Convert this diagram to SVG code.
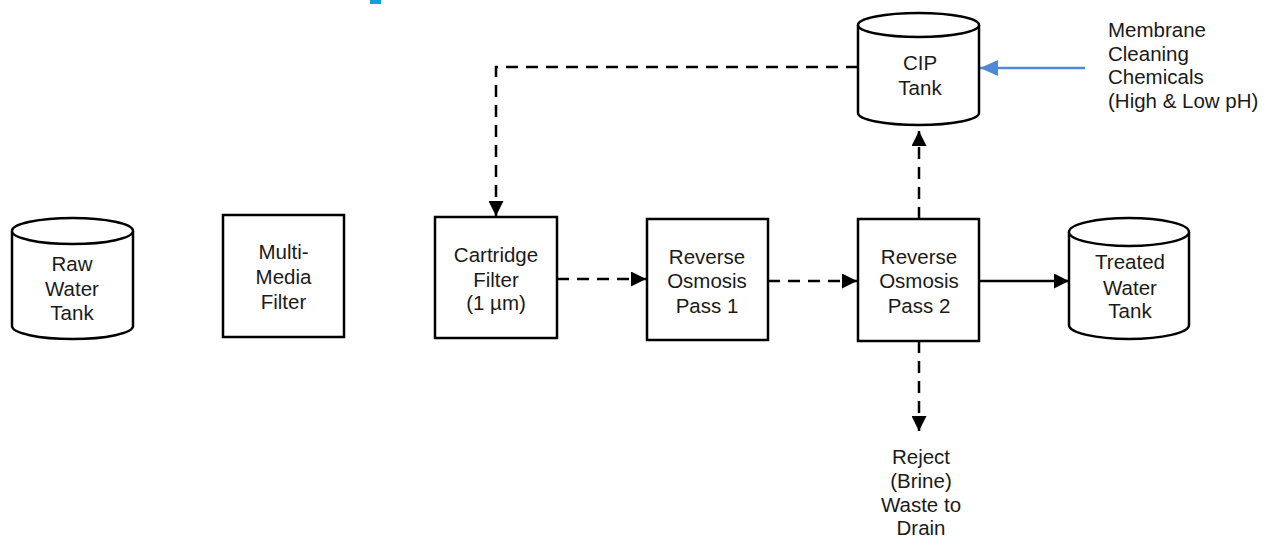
<svg xmlns="http://www.w3.org/2000/svg" width="1265" height="545" viewBox="0 0 1265 545">
  <style>
    .box { fill: #ffffff; stroke: #000000; stroke-width: 2.5; }
    .tank { fill: #ffffff; stroke: #000000; stroke-width: 2.5; }
    .lbl { font-family: "Liberation Sans", Arial, sans-serif; font-size: 20.5px; fill: #1a1a1a; text-anchor: middle; }
    .note { font-family: "Liberation Sans", Arial, sans-serif; font-size: 20.5px; fill: #1a1a1a; text-anchor: start; }
    .flow { fill: none; stroke: #000000; stroke-width: 2.5; }
    .dash { stroke-dasharray: 12 8; }
    .feed { fill: none; stroke: #4f88d3; stroke-width: 2.4; }
  </style>
  <defs>
    <marker id="arrowBlack" markerUnits="userSpaceOnUse" markerWidth="15" markerHeight="15" viewBox="0 0 15 15" refX="15" refY="7.5" orient="auto">
      <path d="M0,0 L15,7.5 L0,15 z" fill="#000000"/>
    </marker>
    <marker id="arrowBlue" markerUnits="userSpaceOnUse" markerWidth="18" markerHeight="16" viewBox="0 0 18 16" refX="18" refY="8" orient="auto">
      <path d="M0,0 L18,8 L0,16 z" fill="#4f88d3"/>
    </marker>
  </defs>

  <rect id="accent" x="370" y="0" width="11" height="4" fill="#0ca0dc"/>

  <g id="connectors">
    <path class="flow dash" d="M858,67 H496 V216" marker-end="url(#arrowBlack)"/>
    <path class="flow dash" d="M557,279 H646" marker-end="url(#arrowBlack)"/>
    <path class="flow dash" d="M768,281 H857" marker-end="url(#arrowBlack)"/>
    <path class="flow" d="M979,281 H1069" marker-end="url(#arrowBlack)"/>
    <path class="flow dash" d="M919,219 V131" marker-end="url(#arrowBlack)"/>
    <path class="flow dash" d="M919,341 V431" marker-end="url(#arrowBlack)"/>
    <path class="feed" d="M1085,68 H980" marker-end="url(#arrowBlue)"/>
  </g>

  <g id="raw-water-tank">
    <path class="tank" d="M12,231 L12,326 A60.5,13 0 0 0 133,326 L133,231"/>
    <ellipse class="tank" cx="72.5" cy="231" rx="60.5" ry="13"/>
    <text class="lbl" x="72" y="271">Raw</text>
    <text class="lbl" x="72" y="296">Water</text>
    <text class="lbl" x="72" y="320">Tank</text>
  </g>

  <g id="multi-media-filter">
    <rect class="box" x="223" y="215" width="121" height="122"/>
    <text class="lbl" x="283.5" y="259">Multi-</text>
    <text class="lbl" x="283.5" y="284">Media</text>
    <text class="lbl" x="283.5" y="309">Filter</text>
  </g>

  <g id="cartridge-filter">
    <rect class="box" x="435" y="217" width="122" height="121"/>
    <text class="lbl" x="496" y="262">Cartridge</text>
    <text class="lbl" x="496" y="287">Filter</text>
    <text class="lbl" x="496" y="310">(1 µm)</text>
  </g>

  <g id="ro-pass-1">
    <rect class="box" x="647" y="219" width="121" height="121"/>
    <text class="lbl" x="707" y="264">Reverse</text>
    <text class="lbl" x="707" y="288">Osmosis</text>
    <text class="lbl" x="707" y="313">Pass 1</text>
  </g>

  <g id="ro-pass-2">
    <rect class="box" x="858" y="219" width="121" height="122"/>
    <text class="lbl" x="919" y="264">Reverse</text>
    <text class="lbl" x="919" y="288">Osmosis</text>
    <text class="lbl" x="919" y="313">Pass 2</text>
  </g>

  <g id="treated-water-tank">
    <path class="tank" d="M1069,232 L1069,325 A60,14 0 0 0 1189,325 L1189,232"/>
    <ellipse class="tank" cx="1129" cy="232" rx="60" ry="14"/>
    <text class="lbl" x="1130" y="269">Treated</text>
    <text class="lbl" x="1130" y="295">Water</text>
    <text class="lbl" x="1130" y="318">Tank</text>
  </g>

  <g id="cip-tank">
    <path class="tank" d="M858,25 L858,113 A60.5,12 0 0 0 979,113 L979,25"/>
    <ellipse class="tank" cx="918.5" cy="25" rx="60.5" ry="12"/>
    <text class="lbl" x="920" y="70">CIP</text>
    <text class="lbl" x="920" y="95">Tank</text>
  </g>

  <g id="cleaning-chemicals">
    <text class="note" x="1108" y="37">Membrane</text>
    <text class="note" x="1108" y="61">Cleaning</text>
    <text class="note" x="1108" y="84">Chemicals</text>
    <text class="note" x="1108" y="108">(High &amp; Low pH)</text>
  </g>

  <g id="reject-drain">
    <text class="lbl" x="921" y="464">Reject</text>
    <text class="lbl" x="921" y="488">(Brine)</text>
    <text class="lbl" x="921" y="512">Waste to</text>
    <text class="lbl" x="921" y="535">Drain</text>
  </g>
</svg>
